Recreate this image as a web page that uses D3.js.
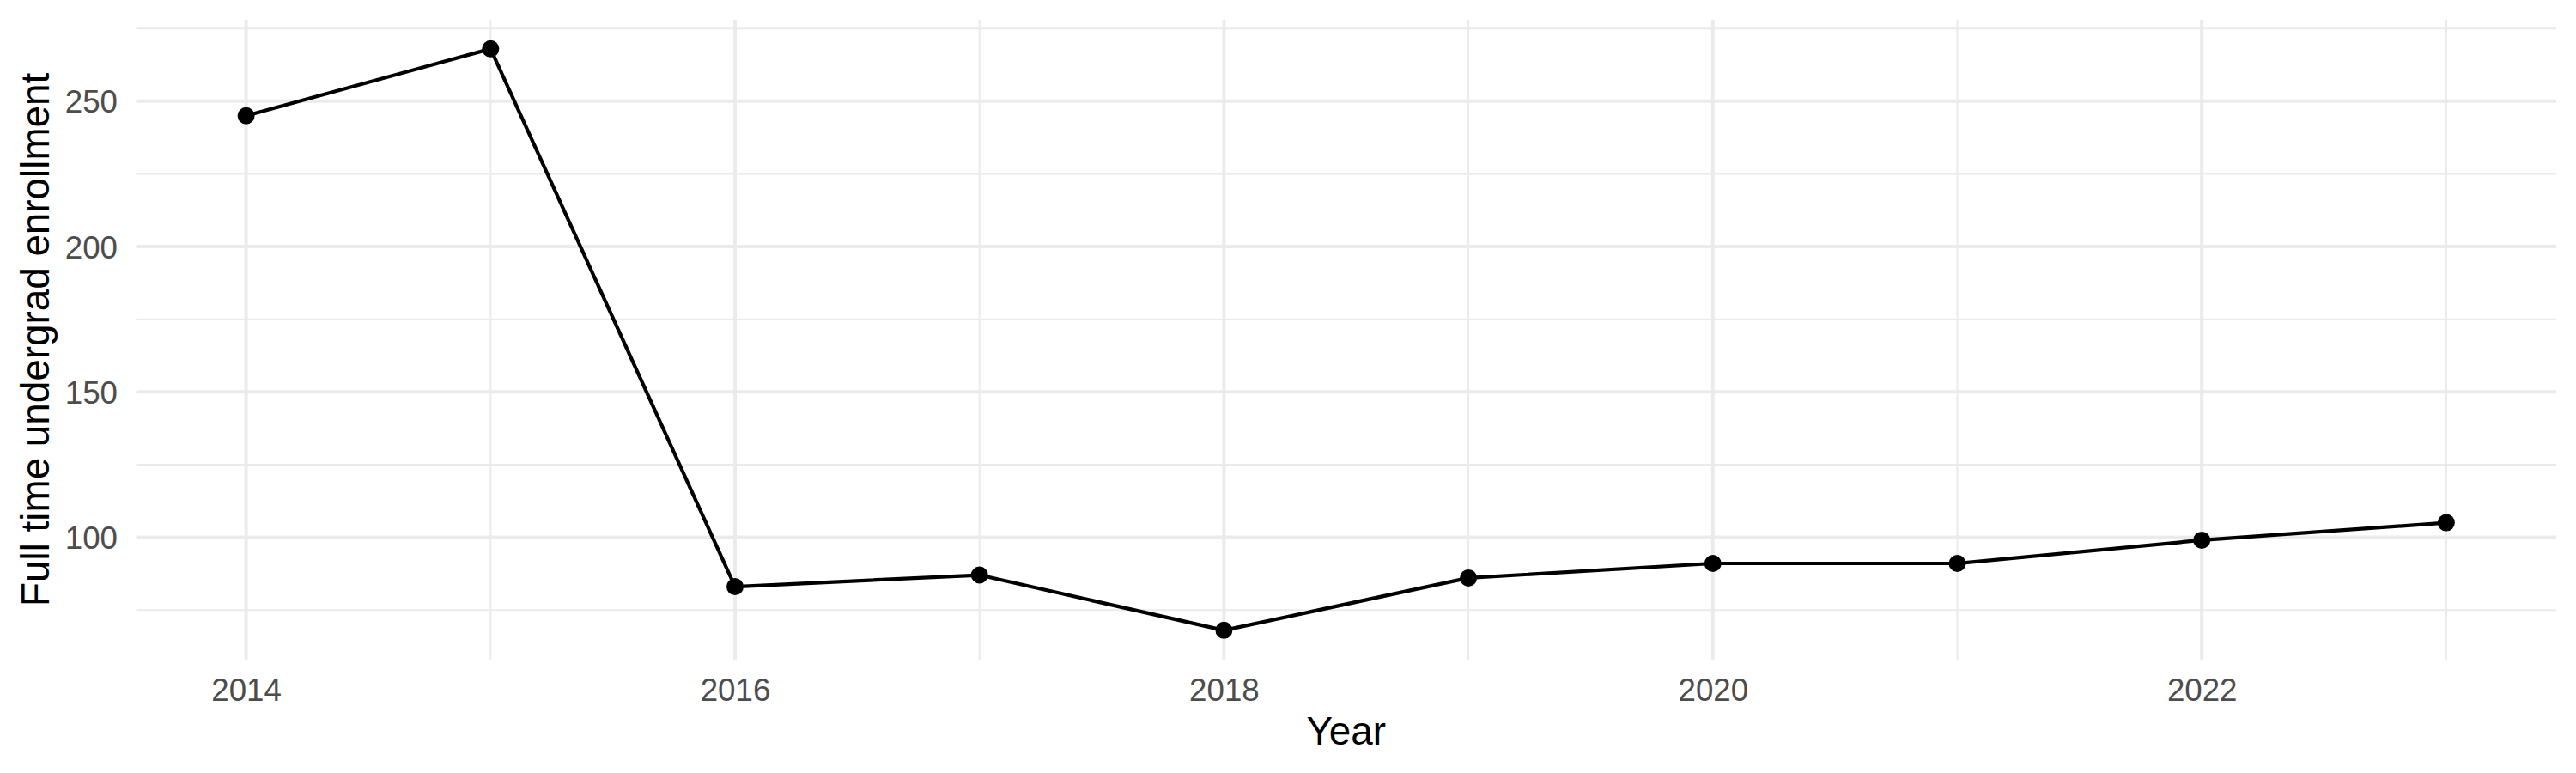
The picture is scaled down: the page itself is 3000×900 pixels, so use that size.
<!DOCTYPE html>
<html>
<head>
<meta charset="utf-8">
<script src="https://cdn.jsdelivr.net/npm/d3@7"></script>
<style>
	body { margin: 0; background: #fff; }
	svg { display: block; }
	text { font-family: "Liberation Sans", Arial, Helvetica, sans-serif; }
</style>
</head>
<body>
<svg width="3000" height="900"></svg>
<script>

const years = [2014, 2015, 2016, 2017, 2018, 2019, 2020, 2021, 2022, 2023];
const enrollment = [245, 268, 83, 87, 68, 86, 91, 91, 99, 105];

const xMajorTicks = [2014, 2016, 2018, 2020, 2022];
const xMinorTicks = [2015, 2017, 2019, 2021, 2023];
const yMajorTicks = [100, 150, 200, 250];
const yMinorTicks = [75, 125, 175, 225, 275];

const X_TITLE = 'Year';
const Y_TITLE = 'Full time undergrad enrollment';

const PANEL = { left: 158.5, right: 2977, top: 23, bottom: 767.7 };

function whenDocumentLoaded(action) {
	if (document.readyState === "loading") {
		document.addEventListener("DOMContentLoaded", action);
	} else {
		action();
	}
}

whenDocumentLoaded(() => {

	const svg = d3.select('svg');
	const data = years.map((y, i) => ({ year: y, value: enrollment[i] }));

	// ggplot style expansion: 5% for y, 0.6 units for a continuous x
	const xPad = (d3.max(years) - d3.min(years)) * 0.05;
	const xScale = d3.scaleLinear()
	.domain([d3.min(years) - xPad, d3.max(years) + xPad])
	.range([PANEL.left, PANEL.right]);

	const yExt = d3.extent(enrollment);
	const yPad = (yExt[1] - yExt[0]) * 0.05;
	const yScale = d3.scaleLinear()
	.domain([yExt[0] - yPad, yExt[1] + yPad])
	.range([PANEL.bottom, PANEL.top]);

	const grid = svg.append('g').attr('class', 'grid');

	// minor grid first, then major
	grid.selectAll('.ymin')
	.data(yMinorTicks)
	.enter()
	.append('line')
	.attr('x1', PANEL.left).attr('x2', PANEL.right)
	.attr('y1', d => yScale(d)).attr('y2', d => yScale(d))
	.attr('stroke', '#ebebeb').attr('stroke-width', 2);

	grid.selectAll('.xmin')
	.data(xMinorTicks)
	.enter()
	.append('line')
	.attr('y1', PANEL.top).attr('y2', PANEL.bottom)
	.attr('x1', d => xScale(d)).attr('x2', d => xScale(d))
	.attr('stroke', '#ebebeb').attr('stroke-width', 2);

	grid.selectAll('.ymaj')
	.data(yMajorTicks)
	.enter()
	.append('line')
	.attr('x1', PANEL.left).attr('x2', PANEL.right)
	.attr('y1', d => yScale(d)).attr('y2', d => yScale(d))
	.attr('stroke', '#ebebeb').attr('stroke-width', 4);

	grid.selectAll('.xmaj')
	.data(xMajorTicks)
	.enter()
	.append('line')
	.attr('y1', PANEL.top).attr('y2', PANEL.bottom)
	.attr('x1', d => xScale(d)).attr('x2', d => xScale(d))
	.attr('stroke', '#ebebeb').attr('stroke-width', 4);

	// axes (labels only, theme_minimal has no ticks or axis lines)
	const xAxis = svg.append('g')
	.attr('transform', 'translate(0 ' + PANEL.bottom + ')')
	.call(d3.axisBottom(xScale).tickValues(xMajorTicks).tickFormat(d3.format('d')).tickSize(0).tickPadding(0));
	xAxis.select('.domain').remove();
	xAxis.selectAll('text')
	.attr('y', 48)
	.attr('dy', 0)
	.attr('fill', '#4d4d4d')
	.style('font-size', '36.7px')
	.style('font-family', '"Liberation Sans", Arial, sans-serif');

	const yAxis = svg.append('g')
	.attr('transform', 'translate(' + PANEL.left + ' 0)')
	.call(d3.axisLeft(yScale).tickValues(yMajorTicks).tickSize(0).tickPadding(0));
	yAxis.select('.domain').remove();
	yAxis.selectAll('text')
	.attr('x', -21.5)
	.attr('dy', '0.36em')
	.attr('fill', '#4d4d4d')
	.style('font-size', '36.7px')
	.style('font-family', '"Liberation Sans", Arial, sans-serif');

	// titles
	svg.append('text')
	.attr('x', (PANEL.left + PANEL.right) / 2)
	.attr('y', 867)
	.attr('text-anchor', 'middle')
	.attr('fill', '#000')
	.style('font-size', '45.8px')
	.text(X_TITLE);

	svg.append('text')
	.attr('transform', 'translate(56.5 ' + (PANEL.top + PANEL.bottom) / 2 + ') rotate(-90)')
	.attr('text-anchor', 'middle')
	.attr('fill', '#000')
	.style('font-size', '45.8px')
	.text(Y_TITLE);

	// series
	const line = d3.line()
	.x(d => xScale(d.year))
	.y(d => yScale(d.value));

	svg.append('path')
	.datum(data)
	.attr('d', line)
	.attr('fill', 'none')
	.attr('stroke', '#000')
	.attr('stroke-width', 4.2)
	.attr('stroke-linejoin', 'round');

	svg.selectAll('.pt')
	.data(data)
	.enter()
	.append('circle')
	.attr('class', 'pt')
	.attr('cx', d => xScale(d.year))
	.attr('cy', d => yScale(d.value))
	.attr('r', 10)
	.attr('fill', '#000');

});

</script>
</body>
</html>
